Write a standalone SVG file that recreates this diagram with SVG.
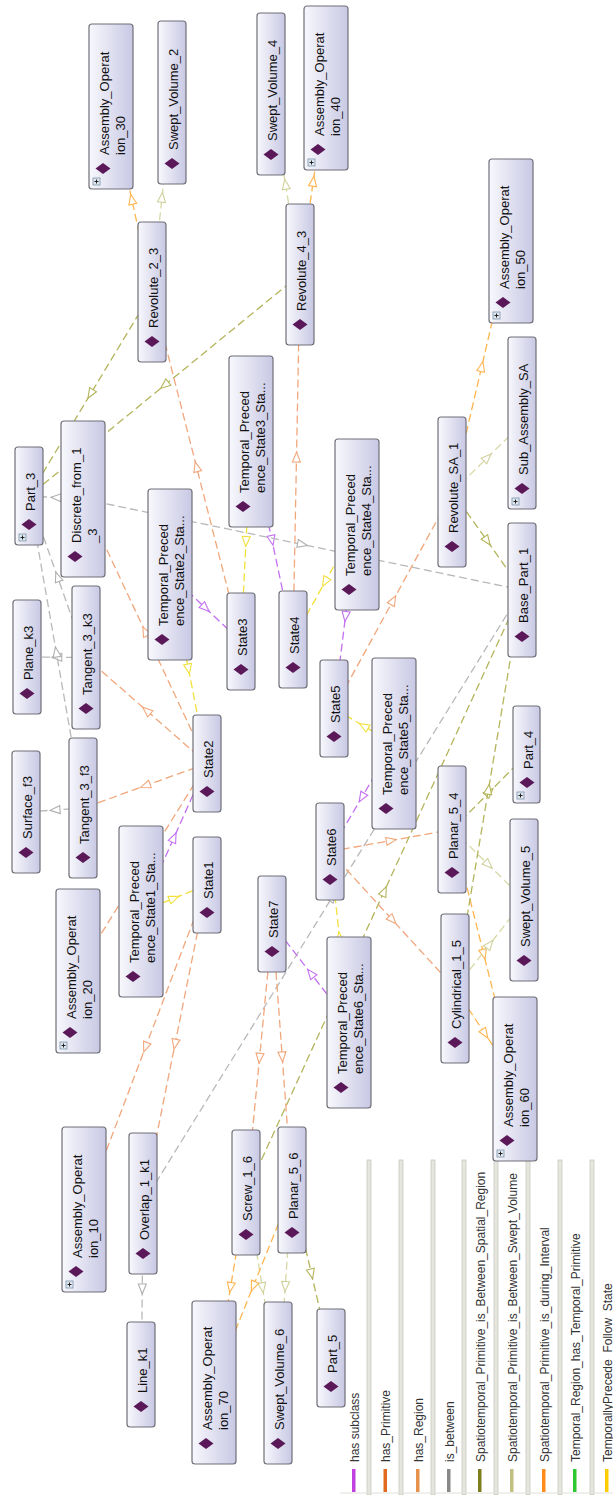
<svg xmlns="http://www.w3.org/2000/svg" width="613" height="1495" viewBox="0 0 613 1495">
<style>
.bg{fill:#ffffff}
.node rect.box{fill:url(#ng);stroke:#6f6f78;stroke-width:1.2}
.dia{fill:#5a1858}
.lbl{font-family:'Liberation Sans',Arial,sans-serif;font-size:13px;fill:#111}
.leg{font-family:'Liberation Sans',Arial,sans-serif;font-size:12px;fill:#333}
.e{fill:none;stroke-width:1.3;stroke-dasharray:8 4}
.pr{stroke:#f1a77c;marker-mid:url(#mPR)}
.di{stroke:#ffb54f;marker-mid:url(#mDI)}
.sr{stroke:#b4b45c;marker-mid:url(#mSR)}
.sv{stroke:#d8d8a6;marker-mid:url(#mSV)}
.ib{stroke:#b9b9b9;marker-mid:url(#mIB)}
.sub{stroke:#c46ff0;marker-mid:url(#mSUB)}
.tp{stroke:#f2e03c;marker-mid:url(#mTP)}
.sep{fill:#e6e6de;stroke:#c9c9c0;stroke-width:0.8}
</style>
<defs>
<linearGradient id="ng" x1="0" y1="0" x2="1" y2="0">
<stop offset="0" stop-color="#f8f8fd"/>
<stop offset="1" stop-color="#c8c8e4"/>
</linearGradient>
<marker id="mPR" viewBox="0 0 10 10" refX="5" refY="5" markerWidth="10" markerHeight="10" markerUnits="userSpaceOnUse" orient="auto" overflow="visible"><path d="M0,1 L10,5 L0,9 Z" fill="#fff" stroke="#f1a77c" stroke-width="1.1"/></marker>
<marker id="mDI" viewBox="0 0 10 10" refX="5" refY="5" markerWidth="10" markerHeight="10" markerUnits="userSpaceOnUse" orient="auto" overflow="visible"><path d="M0,1 L10,5 L0,9 Z" fill="#fff" stroke="#ffb54f" stroke-width="1.1"/></marker>
<marker id="mSR" viewBox="0 0 10 10" refX="5" refY="5" markerWidth="10" markerHeight="10" markerUnits="userSpaceOnUse" orient="auto" overflow="visible"><path d="M0,1 L10,5 L0,9 Z" fill="#fff" stroke="#b4b45c" stroke-width="1.1"/></marker>
<marker id="mSV" viewBox="0 0 10 10" refX="5" refY="5" markerWidth="10" markerHeight="10" markerUnits="userSpaceOnUse" orient="auto" overflow="visible"><path d="M0,1 L10,5 L0,9 Z" fill="#fff" stroke="#d0d09c" stroke-width="1.1"/></marker>
<marker id="mIB" viewBox="0 0 10 10" refX="5" refY="5" markerWidth="10" markerHeight="10" markerUnits="userSpaceOnUse" orient="auto" overflow="visible"><path d="M0,1 L10,5 L0,9 Z" fill="#fff" stroke="#b0b0b0" stroke-width="1.1"/></marker>
<marker id="mSUB" viewBox="0 0 10 10" refX="5" refY="5" markerWidth="10" markerHeight="10" markerUnits="userSpaceOnUse" orient="auto" overflow="visible"><path d="M0,1 L10,5 L0,9 Z" fill="#fff" stroke="#c46ff0" stroke-width="1.1"/></marker>
<marker id="mTP" viewBox="0 0 10 10" refX="5" refY="5" markerWidth="10" markerHeight="10" markerUnits="userSpaceOnUse" orient="auto" overflow="visible"><path d="M0,1 L10,5 L0,9 Z" fill="#fff" stroke="#f2e03c" stroke-width="1.1"/></marker>
<g id="plus"><rect x="0" y="0" width="7" height="7" fill="#dfe7f0" stroke="#7d93aa" stroke-width="0.8"/><path d="M1.5,3.5 H5.5 M3.5,1.5 V5.5" stroke="#222" stroke-width="1"/></g>
</defs>
<rect class="bg" x="0" y="0" width="613" height="1495"/>

<g id="legend">
<rect class="sep" x="367" y="1160" width="4" height="335"/>
<rect class="sep" x="399" y="1160" width="4" height="335"/>
<rect class="sep" x="431" y="1160" width="4" height="335"/>
<rect class="sep" x="462" y="1160" width="4" height="335"/>
<rect class="sep" x="494" y="1160" width="4" height="335"/>
<rect class="sep" x="526" y="1160" width="4" height="335"/>
<rect class="sep" x="558" y="1160" width="4" height="335"/>
<rect class="sep" x="590" y="1160" width="4" height="335"/>
<line x1="340" y1="1493" x2="613" y2="1493" stroke="#e0e0d8" stroke-width="1"/>
<rect x="352" y="1469" width="3.5" height="23" fill="#c040e0"/>
<rect x="383.5" y="1469" width="3.5" height="23" fill="#e06a1e"/>
<rect x="416" y="1469" width="3.5" height="23" fill="#e8914c"/>
<rect x="447" y="1469" width="3.5" height="23" fill="#888888"/>
<rect x="478" y="1469" width="3.5" height="23" fill="#7e7e1e"/>
<rect x="510" y="1469" width="3.5" height="23" fill="#c0c080"/>
<rect x="542" y="1469" width="3.5" height="23" fill="#ff8c1a"/>
<rect x="573" y="1469" width="3.5" height="23" fill="#30c830"/>
<rect x="605" y="1469" width="3.5" height="23" fill="#ffcc00"/>
<text class="leg" transform="translate(358.5,1462) rotate(-90)">has subclass</text>
<text class="leg" transform="translate(390,1462) rotate(-90)">has_Primitive</text>
<text class="leg" transform="translate(422.5,1462) rotate(-90)">has_Region</text>
<text class="leg" transform="translate(453.5,1462) rotate(-90)">is_between</text>
<text class="leg" transform="translate(484.5,1462) rotate(-90)">Spatiotemporal_Primitive_is_Between_Spatial_Region</text>
<text class="leg" transform="translate(516.5,1462) rotate(-90)">Spatiotemporal_Primitive_is_Between_Swept_Volume</text>
<text class="leg" transform="translate(548.5,1462) rotate(-90)">Spatiotemporal_Primitive_is_during_Interval</text>
<text class="leg" transform="translate(579.5,1462) rotate(-90)">Temporal_Region_has_Temporal_Primitive</text>
<text class="leg" transform="translate(611.5,1462) rotate(-90)">TemporallyPrecede_Follow_State</text>
</g>

<g id="connectors">
<path class="e di" d="M152,292 L131.75,199.25 L111.5,106.5"/>
<path class="e sv" d="M152,292 L162,197.25 L172,102.5"/>
<path class="e sv" d="M300,274.5 L285.5,184.25 L271,94"/>
<path class="e di" d="M300,274.5 L313.25,181.25 L326.5,88"/>
<path class="e di" d="M452.5,492 L481.75,366.5 L511,241"/>
<path class="e sv" d="M452.5,492 L487.5,457.5 L522.5,423"/>
<path class="e sr" d="M452.5,492 L487.25,541 L522,590"/>
<path class="e sr" d="M152,292 L90.5,394 L29,496"/>
<path class="e sr" d="M300,274.5 L164.5,385.25 L29,496"/>
<path class="e pr" d="M241,641.5 L196.5,466.75 L152,292"/>
<path class="e pr" d="M293,639.5 L296.5,457 L300,274.5"/>
<path class="e tp" d="M251,441.5 L246,541.5 L241,641.5"/>
<path class="e sub" d="M251,441.5 L272,540.5 L293,639.5"/>
<path class="e sub" d="M170,574.5 L205.5,608 L241,641.5"/>
<path class="e tp" d="M170,574.5 L188.5,669 L207,763.5"/>
<path class="e ib" d="M83,499 L302.5,544.5 L522,590"/>
<path class="e ib" d="M83,499 L56,497.5 L29,496"/>
<path class="e ib" d="M86,657.5 L57.5,576.75 L29,496"/>
<path class="e ib" d="M86,657.5 L56.75,657.25 L27.5,657"/>
<path class="e ib" d="M83.5,808 L55,810 L26.5,812"/>
<path class="e ib" d="M83.5,808 L56.25,652 L29,496"/>
<path class="e pr" d="M207,763.5 L145,631.25 L83,499"/>
<path class="e pr" d="M207,763.5 L146.5,710.5 L86,657.5"/>
<path class="e pr" d="M207,763.5 L145.25,785.75 L83.5,808"/>
<path class="e tp" d="M141,911.5 L174,898.25 L207,885"/>
<path class="e sub" d="M141,911.5 L174,837.5 L207,763.5"/>
<path class="e pr" d="M207,763.5 L142.5,867.25 L78,971"/>
<path class="e pr" d="M207,885 L145.5,1047.25 L84,1209.5"/>
<path class="e pr" d="M207,885 L175,1044.25 L143,1203.5"/>
<path class="e ib" d="M143,1203.5 L142.25,1289 L141.5,1374.5"/>
<path class="e ib" d="M143,1203.5 L332.5,896.75 L522,590"/>
<path class="e sub" d="M349,1022.5 L310.75,973.25 L272.5,924"/>
<path class="e tp" d="M349,1022.5 L339.5,937 L330,851.5"/>
<path class="e sub" d="M393.5,743.5 L361.75,797.5 L330,851.5"/>
<path class="e tp" d="M393.5,743.5 L363.75,726 L334,708.5"/>
<path class="e sub" d="M357,524.5 L345.5,616.5 L334,708.5"/>
<path class="e tp" d="M357,524.5 L325,582 L293,639.5"/>
<path class="e pr" d="M334,708.5 L393.25,600.25 L452.5,492"/>
<path class="e pr" d="M330,851.5 L391.25,840.5 L452.5,829.5"/>
<path class="e pr" d="M330,851.5 L392.5,920 L455,988.5"/>
<path class="e di" d="M452.5,829.5 L483.75,954.25 L515,1079"/>
<path class="e di" d="M455,988.5 L485,1033.75 L515,1079"/>
<path class="e sv" d="M452.5,829.5 L488.5,864.75 L524.5,900"/>
<path class="e sv" d="M455,988.5 L489.75,944.25 L524.5,900"/>
<path class="e sr" d="M452.5,829.5 L489.5,792 L526.5,754.5"/>
<path class="e sr" d="M455,988.5 L488.5,789.25 L522,590"/>
<path class="e sr" d="M246.5,1192.5 L384.25,891.25 L522,590"/>
<path class="e pr" d="M272.5,924 L259.5,1058.25 L246.5,1192.5"/>
<path class="e pr" d="M272.5,924 L282.25,1057 L292,1190"/>
<path class="e di" d="M246.5,1192.5 L230.5,1287.5 L214.5,1382.5"/>
<path class="e sv" d="M246.5,1192.5 L262.5,1287.75 L278.5,1383"/>
<path class="e sv" d="M292,1190 L285.25,1286.5 L278.5,1383"/>
<path class="e sr" d="M292,1190 L311.5,1274 L331,1358"/>
<path class="e di" d="M292,1190 L253.25,1286.25 L214.5,1382.5"/>
</g>

<g id="n-ao30" class="node"><rect class="box" x="89" y="24" width="44" height="165" rx="3"/><polygon class="dia" points="95.5,168.5 103,163 110.5,168.5 103,174"/><text class="lbl" transform="translate(108.5,155) rotate(-90)">Assembly_Operat</text><text class="lbl" transform="translate(124.5,155) rotate(-90)">ion_30</text><use href="#plus" x="93" y="178"/></g>
<g id="n-sv2" class="node"><rect class="box" x="158" y="21" width="28" height="163" rx="3"/><polygon class="dia" points="164.5,163.5 172,158 179.5,163.5 172,169"/><text class="lbl" transform="translate(177.5,150) rotate(-90)">Swept_Volume_2</text></g>
<g id="n-sv4" class="node"><rect class="box" x="257" y="13" width="28" height="162" rx="3"/><polygon class="dia" points="263.5,154.5 271,149 278.5,154.5 271,160"/><text class="lbl" transform="translate(276.5,141) rotate(-90)">Swept_Volume_4</text></g>
<g id="n-ao40" class="node"><rect class="box" x="304" y="6" width="44" height="164" rx="3"/><polygon class="dia" points="310.5,149.5 318,144 325.5,149.5 318,155"/><text class="lbl" transform="translate(323.5,136) rotate(-90)">Assembly_Operat</text><text class="lbl" transform="translate(339.5,136) rotate(-90)">ion_40</text><use href="#plus" x="308" y="159"/></g>
<g id="n-rev23" class="node"><rect class="box" x="138" y="222" width="28" height="140" rx="3"/><polygon class="dia" points="144.5,341.5 152,336 159.5,341.5 152,347"/><text class="lbl" transform="translate(157.5,328) rotate(-90)">Revolute_2_3</text></g>
<g id="n-rev43" class="node"><rect class="box" x="286" y="204" width="28" height="141" rx="3"/><polygon class="dia" points="292.5,324.5 300,319 307.5,324.5 300,330"/><text class="lbl" transform="translate(305.5,311) rotate(-90)">Revolute_4_3</text></g>
<g id="n-ao50" class="node"><rect class="box" x="489" y="159" width="44" height="164" rx="3"/><polygon class="dia" points="495.5,302.5 503,297 510.5,302.5 503,308"/><text class="lbl" transform="translate(508.5,289) rotate(-90)">Assembly_Operat</text><text class="lbl" transform="translate(524.5,289) rotate(-90)">ion_50</text><use href="#plus" x="493" y="312"/></g>
<g id="n-subsa" class="node"><rect class="box" x="508" y="337" width="28" height="172" rx="3"/><polygon class="dia" points="514.5,488.5 522,483 529.5,488.5 522,494"/><text class="lbl" transform="translate(527.5,475) rotate(-90)">Sub_Assembly_SA</text><use href="#plus" x="512" y="498"/></g>
<g id="n-part3" class="node"><rect class="box" x="15" y="447" width="28" height="98" rx="3"/><polygon class="dia" points="21.5,524.5 29,519 36.5,524.5 29,530"/><text class="lbl" transform="translate(34.5,511) rotate(-90)">Part_3</text><use href="#plus" x="19" y="534"/></g>
<g id="n-disc" class="node"><rect class="box" x="61" y="421" width="44" height="156" rx="3"/><polygon class="dia" points="67.5,556.5 75,551 82.5,556.5 75,562"/><text class="lbl" transform="translate(80.5,543) rotate(-90)">Discrete_from_1</text><text class="lbl" transform="translate(96.5,543) rotate(-90)">_3</text></g>
<g id="n-tp2" class="node"><rect class="box" x="148" y="489" width="44" height="171" rx="3"/><polygon class="dia" points="154.5,639.5 162,634 169.5,639.5 162,645"/><text class="lbl" transform="translate(167.5,626) rotate(-90)">Temporal_Preced</text><text class="lbl" transform="translate(183.5,626) rotate(-90)">ence_State2_Sta...</text></g>
<g id="n-tp3" class="node"><rect class="box" x="229" y="356" width="44" height="171" rx="3"/><polygon class="dia" points="235.5,506.5 243,501 250.5,506.5 243,512"/><text class="lbl" transform="translate(248.5,493) rotate(-90)">Temporal_Preced</text><text class="lbl" transform="translate(264.5,493) rotate(-90)">ence_State3_Sta...</text></g>
<g id="n-state3" class="node"><rect class="box" x="227" y="593" width="28" height="97" rx="3"/><polygon class="dia" points="233.5,669.5 241,664 248.5,669.5 241,675"/><text class="lbl" transform="translate(246.5,656) rotate(-90)">State3</text></g>
<g id="n-state4" class="node"><rect class="box" x="279" y="591" width="28" height="97" rx="3"/><polygon class="dia" points="285.5,667.5 293,662 300.5,667.5 293,673"/><text class="lbl" transform="translate(298.5,654) rotate(-90)">State4</text></g>
<g id="n-planek3" class="node"><rect class="box" x="13" y="600" width="28" height="114" rx="3"/><polygon class="dia" points="19.5,693.5 27,688 34.5,693.5 27,699"/><text class="lbl" transform="translate(32.5,680) rotate(-90)">Plane_k3</text></g>
<g id="n-tank3" class="node"><rect class="box" x="72" y="586" width="28" height="143" rx="3"/><polygon class="dia" points="78.5,708.5 86,703 93.5,708.5 86,714"/><text class="lbl" transform="translate(91.5,695) rotate(-90)">Tangent_3_k3</text></g>
<g id="n-state2" class="node"><rect class="box" x="193" y="715" width="28" height="97" rx="3"/><polygon class="dia" points="199.5,791.5 207,786 214.5,791.5 207,797"/><text class="lbl" transform="translate(212.5,778) rotate(-90)">State2</text></g>
<g id="n-tanf3" class="node"><rect class="box" x="69" y="738" width="28" height="140" rx="3"/><polygon class="dia" points="75.5,857.5 83,852 90.5,857.5 83,863"/><text class="lbl" transform="translate(88.5,844) rotate(-90)">Tangent_3_f3</text></g>
<g id="n-tp4" class="node"><rect class="box" x="335" y="439" width="44" height="171" rx="3"/><polygon class="dia" points="341.5,589.5 349,584 356.5,589.5 349,595"/><text class="lbl" transform="translate(354.5,576) rotate(-90)">Temporal_Preced</text><text class="lbl" transform="translate(370.5,576) rotate(-90)">ence_State4_Sta...</text></g>
<g id="n-revsa1" class="node"><rect class="box" x="438" y="417" width="28" height="150" rx="3"/><polygon class="dia" points="444.5,546.5 452,541 459.5,546.5 452,552"/><text class="lbl" transform="translate(457.5,533) rotate(-90)">Revolute_SA_1</text></g>
<g id="n-basepart1" class="node"><rect class="box" x="508" y="523" width="28" height="134" rx="3"/><polygon class="dia" points="514.5,636.5 522,631 529.5,636.5 522,642"/><text class="lbl" transform="translate(527.5,623) rotate(-90)">Base_Part_1</text></g>
<g id="n-state5" class="node"><rect class="box" x="320" y="660" width="28" height="97" rx="3"/><polygon class="dia" points="326.5,736.5 334,731 341.5,736.5 334,742"/><text class="lbl" transform="translate(339.5,723) rotate(-90)">State5</text></g>
<g id="n-tp5" class="node"><rect class="box" x="372" y="658" width="44" height="171" rx="3"/><polygon class="dia" points="378.5,808.5 386,803 393.5,808.5 386,814"/><text class="lbl" transform="translate(391.5,795) rotate(-90)">Temporal_Preced</text><text class="lbl" transform="translate(407.5,795) rotate(-90)">ence_State5_Sta...</text></g>
<g id="n-part4" class="node"><rect class="box" x="513" y="706" width="27" height="97" rx="3"/><polygon class="dia" points="519.5,782.5 527,777 534.5,782.5 527,788"/><text class="lbl" transform="translate(532.5,769) rotate(-90)">Part_4</text><use href="#plus" x="517" y="792"/></g>
<g id="n-surff3" class="node"><rect class="box" x="12" y="751" width="28" height="122" rx="3"/><polygon class="dia" points="18.5,852.5 26,847 33.5,852.5 26,858"/><text class="lbl" transform="translate(31.5,839) rotate(-90)">Surface_f3</text></g>
<g id="n-tp1" class="node"><rect class="box" x="119" y="826" width="44" height="171" rx="3"/><polygon class="dia" points="125.5,976.5 133,971 140.5,976.5 133,982"/><text class="lbl" transform="translate(138.5,963) rotate(-90)">Temporal_Preced</text><text class="lbl" transform="translate(154.5,963) rotate(-90)">ence_State1_Sta...</text></g>
<g id="n-state1" class="node"><rect class="box" x="193" y="837" width="28" height="96" rx="3"/><polygon class="dia" points="199.5,912.5 207,907 214.5,912.5 207,918"/><text class="lbl" transform="translate(212.5,899) rotate(-90)">State1</text></g>
<g id="n-state7" class="node"><rect class="box" x="258" y="876" width="28" height="96" rx="3"/><polygon class="dia" points="264.5,951.5 272,946 279.5,951.5 272,957"/><text class="lbl" transform="translate(277.5,938) rotate(-90)">State7</text></g>
<g id="n-ao20" class="node"><rect class="box" x="56" y="889" width="44" height="164" rx="3"/><polygon class="dia" points="62.5,1032.5 70,1027 77.5,1032.5 70,1038"/><text class="lbl" transform="translate(75.5,1019) rotate(-90)">Assembly_Operat</text><text class="lbl" transform="translate(91.5,1019) rotate(-90)">ion_20</text><use href="#plus" x="60" y="1042"/></g>
<g id="n-state6" class="node"><rect class="box" x="316" y="803" width="28" height="97" rx="3"/><polygon class="dia" points="322.5,879.5 330,874 337.5,879.5 330,885"/><text class="lbl" transform="translate(335.5,866) rotate(-90)">State6</text></g>
<g id="n-planar54" class="node"><rect class="box" x="438" y="766" width="28" height="127" rx="3"/><polygon class="dia" points="444.5,872.5 452,867 459.5,872.5 452,878"/><text class="lbl" transform="translate(457.5,859) rotate(-90)">Planar_5_4</text></g>
<g id="n-sv5" class="node"><rect class="box" x="510" y="819" width="28" height="162" rx="3"/><polygon class="dia" points="516.5,960.5 524,955 531.5,960.5 524,966"/><text class="lbl" transform="translate(529.5,947) rotate(-90)">Swept_Volume_5</text></g>
<g id="n-tp6" class="node"><rect class="box" x="327" y="937" width="44" height="171" rx="3"/><polygon class="dia" points="333.5,1087.5 341,1082 348.5,1087.5 341,1093"/><text class="lbl" transform="translate(346.5,1074) rotate(-90)">Temporal_Preced</text><text class="lbl" transform="translate(362.5,1074) rotate(-90)">ence_State6_Sta...</text></g>
<g id="n-cyl15" class="node"><rect class="box" x="441" y="914" width="28" height="149" rx="3"/><polygon class="dia" points="447.5,1042.5 455,1037 462.5,1042.5 455,1048"/><text class="lbl" transform="translate(460.5,1029) rotate(-90)">Cylindrical_1_5</text></g>
<g id="n-ao60" class="node"><rect class="box" x="493" y="997" width="44" height="164" rx="3"/><polygon class="dia" points="499.5,1140.5 507,1135 514.5,1140.5 507,1146"/><text class="lbl" transform="translate(512.5,1127) rotate(-90)">Assembly_Operat</text><text class="lbl" transform="translate(528.5,1127) rotate(-90)">ion_60</text><use href="#plus" x="497" y="1150"/></g>
<g id="n-ao10" class="node"><rect class="box" x="62" y="1127" width="44" height="165" rx="3"/><polygon class="dia" points="68.5,1271.5 76,1266 83.5,1271.5 76,1277"/><text class="lbl" transform="translate(81.5,1258) rotate(-90)">Assembly_Operat</text><text class="lbl" transform="translate(97.5,1258) rotate(-90)">ion_10</text><use href="#plus" x="66" y="1281"/></g>
<g id="n-overlap" class="node"><rect class="box" x="129" y="1133" width="28" height="141" rx="3"/><polygon class="dia" points="135.5,1253.5 143,1248 150.5,1253.5 143,1259"/><text class="lbl" transform="translate(148.5,1240) rotate(-90)">Overlap_1_k1</text></g>
<g id="n-screw16" class="node"><rect class="box" x="232" y="1130" width="28" height="125" rx="3"/><polygon class="dia" points="238.5,1234.5 246,1229 253.5,1234.5 246,1240"/><text class="lbl" transform="translate(251.5,1221) rotate(-90)">Screw_1_6</text></g>
<g id="n-planar56" class="node"><rect class="box" x="278" y="1127" width="28" height="126" rx="3"/><polygon class="dia" points="284.5,1232.5 292,1227 299.5,1232.5 292,1238"/><text class="lbl" transform="translate(297.5,1219) rotate(-90)">Planar_5_6</text></g>
<g id="n-linek1" class="node"><rect class="box" x="127" y="1322" width="28" height="105" rx="3"/><polygon class="dia" points="133.5,1406.5 141,1401 148.5,1406.5 141,1412"/><text class="lbl" transform="translate(146.5,1393) rotate(-90)">Line_k1</text></g>
<g id="n-ao70" class="node"><rect class="box" x="192" y="1301" width="44" height="163" rx="3"/><polygon class="dia" points="198.5,1443.5 206,1438 213.5,1443.5 206,1449"/><text class="lbl" transform="translate(211.5,1430) rotate(-90)">Assembly_Operat</text><text class="lbl" transform="translate(227.5,1430) rotate(-90)">ion_70</text></g>
<g id="n-sv6" class="node"><rect class="box" x="264" y="1302" width="28" height="162" rx="3"/><polygon class="dia" points="270.5,1443.5 278,1438 285.5,1443.5 278,1449"/><text class="lbl" transform="translate(283.5,1430) rotate(-90)">Swept_Volume_6</text></g>
<g id="n-part5" class="node"><rect class="box" x="317" y="1309" width="28" height="98" rx="3"/><polygon class="dia" points="323.5,1386.5 331,1381 338.5,1386.5 331,1392"/><text class="lbl" transform="translate(336.5,1373) rotate(-90)">Part_5</text></g>
</svg>
